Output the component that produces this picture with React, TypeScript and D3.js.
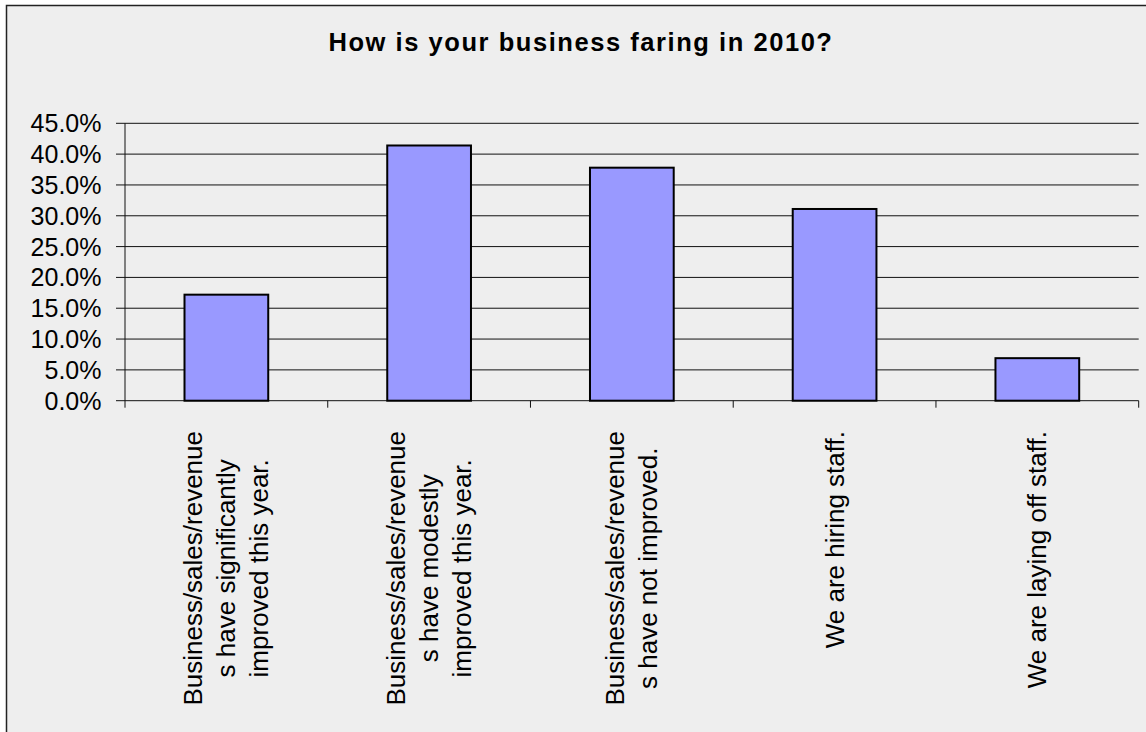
import React, { useEffect, useRef } from "react";
import * as d3 from "d3";

const title = "How is your business faring in 2010?";
const categories = [
  "Business/sales/revenue\ns have significantly\nimproved this year.",
  "Business/sales/revenue\ns have modestly\nimproved this year.",
  "Business/sales/revenue\ns have not improved.",
  "We are hiring staff.",
  "We are laying off staff.",
];
const values = [0.172, 0.414, 0.378, 0.311, 0.069];
const yTicks = [0, 0.05, 0.1, 0.15, 0.2, 0.25, 0.3, 0.35, 0.4, 0.45];

const W = 1146;
const H = 732;
const FONT = "'Liberation Sans', Arial, Helvetica, sans-serif";

export default function App() {
  const ref = useRef<SVGSVGElement>(null);

  useEffect(() => {
    const svg = d3.select(ref.current);
    svg.selectAll("*").remove();

    const left = 125;
    const right = 1138.7;
    const top = 123.3;
    const bottom = 400.7;

    svg
      .append("rect")
      .attr("x", 6.5)
      .attr("y", 5.5)
      .attr("width", 1200)
      .attr("height", 800)
      .attr("fill", "#eeeeee")
      .attr("stroke", "#222")
      .attr("stroke-width", 1.5);

    svg
      .append("text")
      .attr("x", 581)
      .attr("y", 51)
      .attr("text-anchor", "middle")
      .attr("font-family", FONT)
      .attr("font-size", 25.5)
      .attr("font-weight", "bold")
      .attr("letter-spacing", 1.55)
      .attr("fill", "#000")
      .text(title);

    const y = d3.scaleLinear().domain([0, 0.45]).range([bottom, top]);
    const x = d3
      .scaleBand<number>()
      .domain(d3.range(categories.length))
      .range([left, right])
      .paddingInner(0.587)
      .paddingOuter(0.587 / 2);
    const step = (right - left) / categories.length;

    const g = svg.append("g");
    g.selectAll("line.grid")
      .data(yTicks)
      .join("line")
      .attr("x1", left - 9)
      .attr("x2", right)
      .attr("y1", (d) => y(d))
      .attr("y2", (d) => y(d))
      .attr("stroke", "#111")
      .attr("stroke-width", 1);

    g.selectAll("text.ytick")
      .data(yTicks)
      .join("text")
      .attr("x", 101.5)
      .attr("y", (d) => y(d))
      .attr("text-anchor", "end")
      .attr("dominant-baseline", "central")
      .attr("font-family", FONT)
      .attr("font-size", 25)
      .attr("fill", "#000")
      .text((d) => d3.format(".1%")(d));

    svg
      .append("line")
      .attr("x1", left)
      .attr("x2", left)
      .attr("y1", top)
      .attr("y2", bottom + 7)
      .attr("stroke", "#111")
      .attr("stroke-width", 1);

    svg
      .append("g")
      .selectAll("line")
      .data(d3.range(1, categories.length + 1))
      .join("line")
      .attr("x1", (i) => left + i * step)
      .attr("x2", (i) => left + i * step)
      .attr("y1", bottom)
      .attr("y2", bottom + 7)
      .attr("stroke", "#111")
      .attr("stroke-width", 1);

    svg
      .append("g")
      .selectAll("rect")
      .data(values)
      .join("rect")
      .attr("x", (_, i) => x(i)!)
      .attr("width", x.bandwidth())
      .attr("y", (d) => y(d))
      .attr("height", (d) => bottom - y(d))
      .attr("fill", "#9999ff")
      .attr("stroke", "#000")
      .attr("stroke-width", 2);

    const lineH = 33;
    const labelTop = 431;
    categories.forEach((cat, i) => {
      const lines = cat.split("\n");
      const cx = x(i)! + x.bandwidth() / 2;
      const grp = svg
        .append("g")
        .attr("transform", `translate(${cx},0) rotate(-90)`);
      const texts = lines.map((ln, j) =>
        grp
          .append("text")
          .attr("y", (j - (lines.length - 1) / 2) * lineH)
          .attr("text-anchor", "middle")
          .attr("dominant-baseline", "central")
          .attr("font-family", FONT)
          .attr("font-size", 26)
          .attr("fill", "#000")
          .text(ln)
      );
      const maxW = d3.max(texts, (t) => (t.node() as SVGTextElement).getComputedTextLength()) || 0;
      texts.forEach((t) => t.attr("x", -(labelTop + maxW / 2)));
    });
  }, []);

  return (
    <svg
      ref={ref}
      width={W}
      height={H}
      style={{ position: "absolute", left: 0, top: 0, background: "#fff" }}
    />
  );
}
